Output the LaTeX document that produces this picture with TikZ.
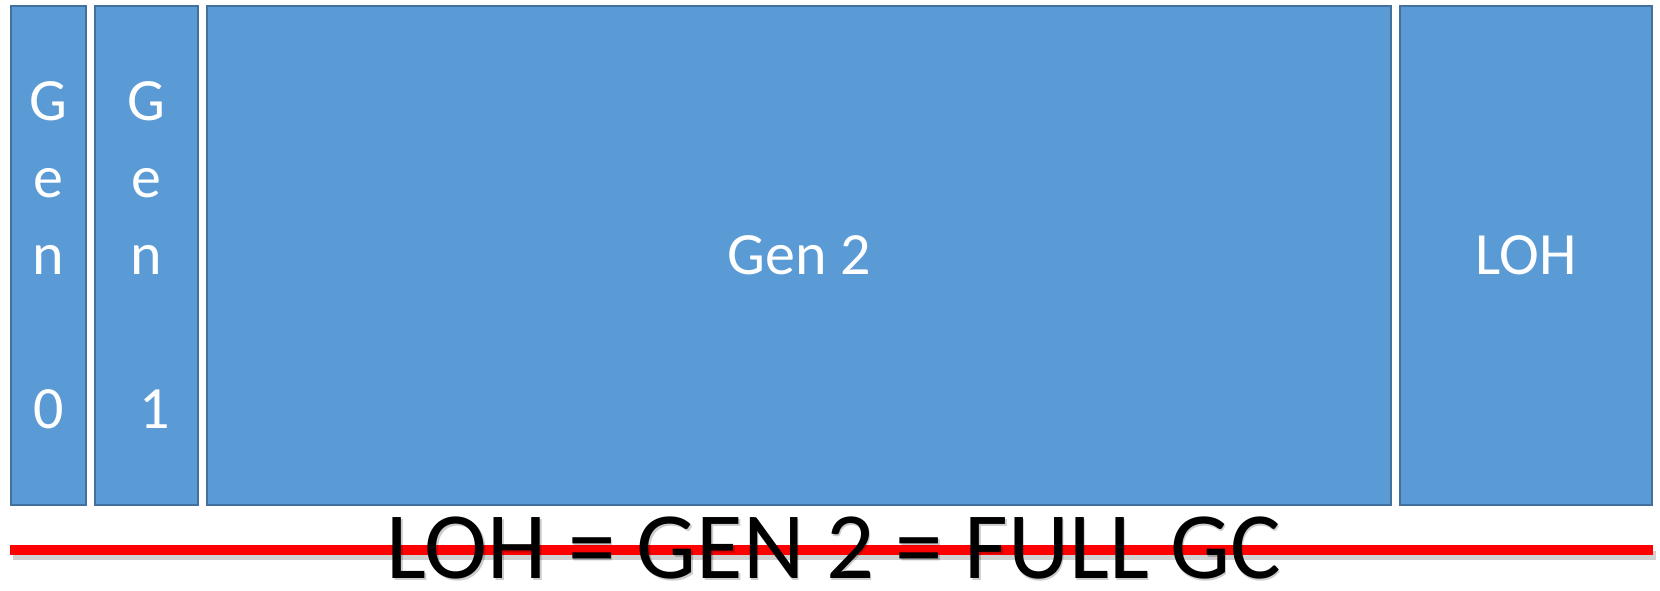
\documentclass[tikz,border=0pt]{standalone}
\usepackage{fontspec}
\setmainfont{Carlito}
\definecolor{boxfill}{HTML}{5B9BD5}
\definecolor{boxline}{HTML}{41719C}
\definecolor{redline}{HTML}{FF0000}
\tikzset{
  genbox/.style={draw=boxline, line width=2pt, fill=boxfill, inner sep=0pt, outer sep=0pt,
    text=white, align=center, font=\fontsize{60}{77}\selectfont},
  bigtext/.style={font=\fontsize{95}{100}\selectfont, inner sep=0pt, anchor=base}
}
\begin{document}
\begin{tikzpicture}[x=1pt,y=-1pt]
\useasboundingbox[fill=white] (0,0) rectangle (1660,590);
% boxes
\node[genbox, minimum width=75pt, minimum height=499pt] (g0) at (48.5,255.5) {G\\e\\n\\[77pt]0};
\node[genbox, minimum width=103pt, minimum height=499pt] (g1) at (146.5,255.5) {G\\e\\n\\[77pt]\hspace*{16pt}1};
\node[genbox, minimum width=1184pt, minimum height=499pt] (g2) at (799,255.5) {Gen 2};
\node[genbox, minimum width=252pt, minimum height=499pt] (loh) at (1526,255.5) {LOH};
% red line with shadow
\coordinate (ra) at (10,550);
\coordinate (rb) at (1653,550);
\draw[black, opacity=0.18, line width=9pt] ([shift={(3,5)}]ra) -- ([shift={(3,5)}]rb);
\draw[redline, line width=10pt] (ra) -- (rb);
% bottom text
\node[bigtext, text=black, opacity=0.2] (capshadow) at (835.5,580.5) {LOH = GEN 2 = FULL GC};
\node[bigtext, text=black] (caption) at (834,578.5) {LOH = GEN 2 = FULL GC};
\end{tikzpicture}
\end{document}
